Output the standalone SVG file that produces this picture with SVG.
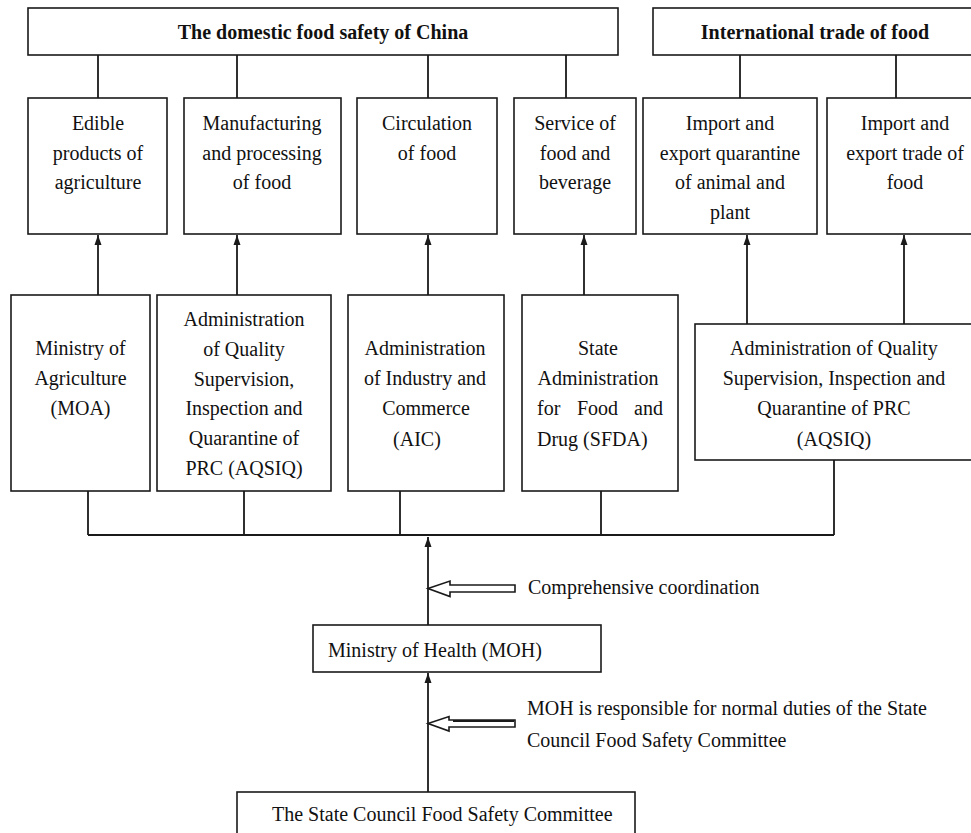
<svg xmlns="http://www.w3.org/2000/svg" width="971" height="833" viewBox="0 0 971 833">
<style>
.box{fill:#fff;stroke:#1a1a1a;stroke-width:1.6}
.ln{fill:none;stroke:#1a1a1a;stroke-width:1.8}
.t{font-family:"Liberation Serif","Times New Roman",serif;font-size:20px;fill:#111;text-anchor:middle}
.l{text-anchor:start}
.b{font-weight:bold}
.hol{fill:#fff;stroke:#1a1a1a;stroke-width:1.6;stroke-linejoin:miter}
</style>
<defs>
<marker id="ah" markerUnits="userSpaceOnUse" markerWidth="10" markerHeight="8" refX="10" refY="4" orient="auto">
<path d="M0,0.5 L10,4 L0,7.5 z" fill="#1a1a1a"/>
</marker>
</defs>
<rect width="971" height="833" fill="#fff"/>

<g id="connectors">
<path class="ln" d="M98,55V98 M237,55V98 M428,55V98 M566,55V98 M740,55V98 M896,55V98"/>
<line class="ln" x1="98" y1="295" x2="98" y2="235" marker-end="url(#ah)"/>
<line class="ln" x1="237" y1="295" x2="237" y2="235" marker-end="url(#ah)"/>
<line class="ln" x1="428" y1="295" x2="428" y2="235" marker-end="url(#ah)"/>
<line class="ln" x1="584" y1="295" x2="584" y2="235" marker-end="url(#ah)"/>
<line class="ln" x1="747" y1="324" x2="747" y2="235" marker-end="url(#ah)"/>
<line class="ln" x1="904" y1="324" x2="904" y2="235" marker-end="url(#ah)"/>
<path class="ln" d="M88,491V535 M244,491V535 M400,491V535 M601,491V535 M834,460V535 M88,535H834"/>
<line class="ln" x1="428" y1="625" x2="428" y2="537" marker-end="url(#ah)"/>
<line class="ln" x1="428" y1="792" x2="428" y2="673" marker-end="url(#ah)"/>
<polygon class="hol" points="428,588.5 450,581 450,585 515,585 515,592 450,592 450,596.5"/>
<polygon class="hol" points="428,723.5 449,716.5 449,720 515,720 515,727 449,727 449,731"/>
<line class="ln" x1="453" y1="721" x2="514" y2="721" stroke-width="1.4"/>
</g>

<g id="top-domestic">
<rect class="box" x="28" y="8" width="590" height="47"/>
<text class="t b" x="323" y="39">The domestic food safety of China</text>
</g>
<g id="top-international">
<rect class="box" x="653" y="8" width="330" height="47"/>
<text class="t b" x="815" y="39">International trade of food</text>
</g>

<g id="edible">
<rect class="box" x="28" y="98" width="139" height="136"/>
<text class="t" x="98" y="130">Edible</text>
<text class="t" x="98" y="159.5">products of</text>
<text class="t" x="98" y="189">agriculture</text>
</g>
<g id="manufacturing">
<rect class="box" x="184" y="98" width="157" height="136"/>
<text class="t" x="262" y="130">Manufacturing</text>
<text class="t" x="262" y="159.5">and processing</text>
<text class="t" x="262" y="189">of food</text>
</g>
<g id="circulation">
<rect class="box" x="357" y="98" width="140" height="136"/>
<text class="t" x="427" y="130">Circulation</text>
<text class="t" x="427" y="159.5">of food</text>
</g>
<g id="service">
<rect class="box" x="514" y="98" width="122" height="136"/>
<text class="t" x="575" y="130">Service of</text>
<text class="t" x="575" y="159.5">food and</text>
<text class="t" x="575" y="189">beverage</text>
</g>
<g id="quarantine">
<rect class="box" x="643" y="98" width="174" height="136"/>
<text class="t" x="730" y="130">Import and</text>
<text class="t" x="730" y="159.5">export quarantine</text>
<text class="t" x="730" y="189">of animal and</text>
<text class="t" x="730" y="218.5">plant</text>
</g>
<g id="trade">
<rect class="box" x="827" y="98" width="156" height="136"/>
<text class="t" x="905" y="130">Import and</text>
<text class="t" x="905" y="159.5">export trade of</text>
<text class="t" x="905" y="189">food</text>
</g>

<g id="moa">
<rect class="box" x="11" y="295" width="139" height="196"/>
<text class="t" x="80.5" y="355">Ministry of</text>
<text class="t" x="80.5" y="385">Agriculture</text>
<text class="t" x="80.5" y="415">(MOA)</text>
</g>
<g id="aqsiq1">
<rect class="box" x="157" y="295" width="174" height="196"/>
<text class="t" x="244" y="326">Administration</text>
<text class="t" x="244" y="356">of Quality</text>
<text class="t" x="244" y="385.5">Supervision,</text>
<text class="t" x="244" y="415">Inspection and</text>
<text class="t" x="244" y="445">Quarantine of</text>
<text class="t" x="244" y="475">PRC (AQSIQ)</text>
</g>
<g id="aic">
<rect class="box" x="348" y="295" width="156" height="196"/>
<text class="t" x="425" y="355">Administration</text>
<text class="t" x="425" y="385">of Industry and</text>
<text class="t" x="426" y="415">Commerce</text>
<text class="t" x="417" y="446">(AIC)</text>
</g>
<g id="sfda">
<rect class="box" x="522" y="295" width="156" height="196"/>
<text class="t" x="598" y="355">State</text>
<text class="t" x="598" y="385">Administration</text>
<text class="t l" y="415"><tspan x="537">for</tspan><tspan x="577">Food</tspan><tspan x="634">and</tspan></text>
<text class="t l" x="537" y="446">Drug (SFDA)</text>
</g>
<g id="aqsiq2">
<rect class="box" x="695" y="324" width="288" height="136"/>
<text class="t" x="834" y="355">Administration of Quality</text>
<text class="t" x="834" y="385">Supervision, Inspection and</text>
<text class="t" x="834" y="415">Quarantine of PRC</text>
<text class="t" x="834" y="446">(AQSIQ)</text>
</g>

<g id="label-coordination">
<text class="t l" x="528" y="594">Comprehensive coordination</text>
</g>
<g id="moh">
<rect class="box" x="313" y="625" width="288" height="47"/>
<text class="t l" x="328" y="657">Ministry of Health (MOH)</text>
</g>
<g id="label-duties">
<text class="t l" x="527" y="715">MOH is responsible for normal duties of the State</text>
<text class="t l" x="527" y="747">Council Food Safety Committee</text>
</g>
<g id="state-council">
<rect class="box" x="237" y="792" width="398" height="60"/>
<text class="t l" x="272" y="821">The State Council Food Safety Committee</text>
</g>
</svg>
